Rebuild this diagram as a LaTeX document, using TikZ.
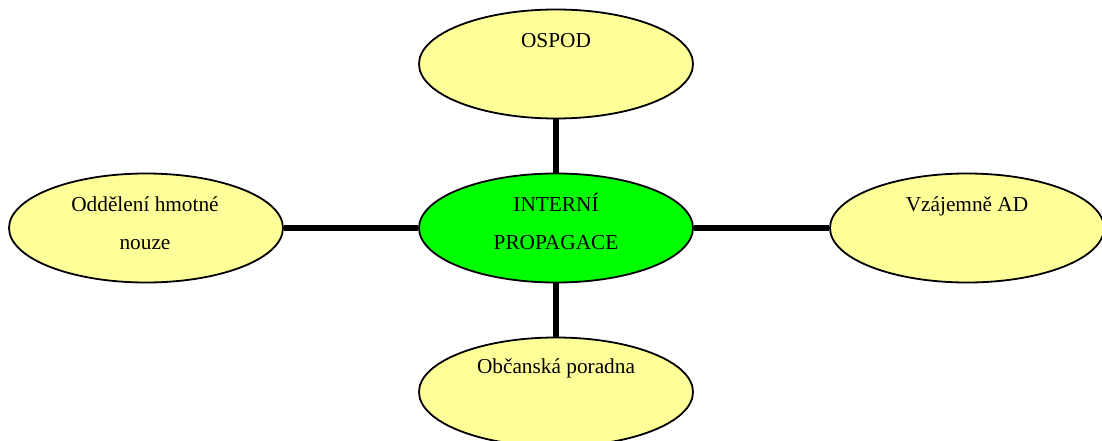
\documentclass[tikz,border=0pt]{standalone}
\usepackage{fontspec}
\setmainfont{Liberation Serif}
\usetikzlibrary{shapes.geometric}
\definecolor{paleyel}{RGB}{255,255,153}
\definecolor{brightgr}{RGB}{0,255,0}
\tikzset{
 bub/.style={ellipse,draw=black,line width=1.8pt,fill=paleyel,minimum width=274pt,minimum height=109pt,inner sep=0pt},
 hub/.style={bub,fill=brightgr},
 lbl/.style={font=\fontsize{21.3}{21.3}\selectfont,anchor=base,inner sep=0pt,text=black},
 link/.style={line width=6pt,black}
}
\begin{document}
\begin{tikzpicture}[x=1pt,y=-1pt]
\useasboundingbox (0,0) rectangle (1102,441);
\fill[white] (0,0) rectangle (1102,441);
\node[hub] (center) at (556,228) {};
\node[bub] (top) at (556,64) {};
\node[bub] (left) at (146,228) {};
\node[bub] (right) at (967,228) {};
\node[bub] (bottom) at (556,392) {};
\draw[link] (top.south) -- (center.north);
\draw[link] (center.south) -- (bottom.north);
\draw[link] (left.east) -- (center.west);
\draw[link] (center.east) -- (right.west);
\node[lbl] (t1) at (556,48) {OSPOD};
\node[lbl] (t2) at (556,211) {INTERNÍ};
\node[lbl] (t3) at (556,249) {PROPAGACE};
\node[lbl] (t4) at (145,211) {Oddělení hmotné};
\node[lbl] (t5) at (145,249.5) {nouze};
\node[lbl] (t6) at (967,211) {Vzájemně AD};
\node[lbl] (t7) at (556,373) {Občanská poradna};
\end{tikzpicture}
\end{document}
